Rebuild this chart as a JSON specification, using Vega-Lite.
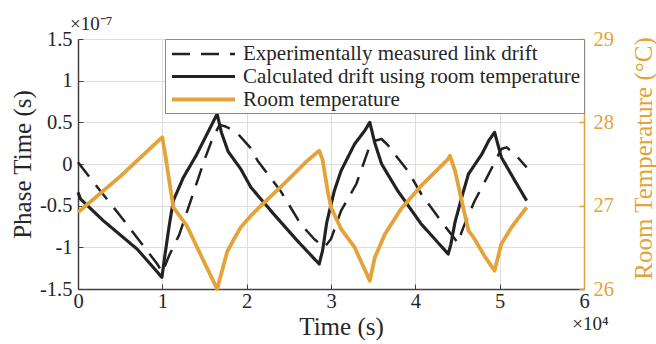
{
  "$schema": "https://vega.github.io/schema/vega-lite/v6.json",
  "width": 506,
  "height": 250,
  "autosize": {"type": "none"},
  "padding": {"left": 78, "top": 39, "right": 72, "bottom": 55},
  "background": "white",
  "config": {"view": {"stroke": null}, "font": "Liberation Serif"},
  "title": {"text": "×10⁻⁷", "anchor": "start", "frame": "group", "font": "Liberation Serif", "fontSize": 19, "fontWeight": "normal", "color": "#262626", "baseline": "alphabetic", "offset": 2, "dx": -8, "dy": 22},
  "datasets": {
    "drift": [
      {"series": "Experimentally measured link drift", "time": 0, "phase": 0.02e-7},
      {"series": "Experimentally measured link drift", "time": 2000, "phase": -0.24e-7},
      {"series": "Experimentally measured link drift", "time": 5000, "phase": -0.62e-7},
      {"series": "Experimentally measured link drift", "time": 9400, "phase": -1.2e-7},
      {"series": "Experimentally measured link drift", "time": 10000, "phase": -1.3e-7},
      {"series": "Experimentally measured link drift", "time": 10800, "phase": -1.1e-7},
      {"series": "Experimentally measured link drift", "time": 12000, "phase": -0.85e-7},
      {"series": "Experimentally measured link drift", "time": 13500, "phase": -0.4e-7},
      {"series": "Experimentally measured link drift", "time": 15000, "phase": 0.05e-7},
      {"series": "Experimentally measured link drift", "time": 16000, "phase": 0.32e-7},
      {"series": "Experimentally measured link drift", "time": 16800, "phase": 0.47e-7},
      {"series": "Experimentally measured link drift", "time": 17500, "phase": 0.45e-7},
      {"series": "Experimentally measured link drift", "time": 18800, "phase": 0.38e-7},
      {"series": "Experimentally measured link drift", "time": 20400, "phase": 0.2e-7},
      {"series": "Experimentally measured link drift", "time": 21300, "phase": 0.04e-7},
      {"series": "Experimentally measured link drift", "time": 24000, "phase": -0.32e-7},
      {"series": "Experimentally measured link drift", "time": 26400, "phase": -0.72e-7},
      {"series": "Experimentally measured link drift", "time": 28000, "phase": -0.9e-7},
      {"series": "Experimentally measured link drift", "time": 29200, "phase": -1.0e-7},
      {"series": "Experimentally measured link drift", "time": 30000, "phase": -0.9e-7},
      {"series": "Experimentally measured link drift", "time": 31200, "phase": -0.56e-7},
      {"series": "Experimentally measured link drift", "time": 33000, "phase": -0.24e-7},
      {"series": "Experimentally measured link drift", "time": 34400, "phase": 0.16e-7},
      {"series": "Experimentally measured link drift", "time": 35200, "phase": 0.28e-7},
      {"series": "Experimentally measured link drift", "time": 36000, "phase": 0.3e-7},
      {"series": "Experimentally measured link drift", "time": 36800, "phase": 0.22e-7},
      {"series": "Experimentally measured link drift", "time": 37700, "phase": 0.1e-7},
      {"series": "Experimentally measured link drift", "time": 39100, "phase": -0.08e-7},
      {"series": "Experimentally measured link drift", "time": 40700, "phase": -0.36e-7},
      {"series": "Experimentally measured link drift", "time": 43300, "phase": -0.72e-7},
      {"series": "Experimentally measured link drift", "time": 44700, "phase": -0.9e-7},
      {"series": "Experimentally measured link drift", "time": 45000, "phase": -0.95e-7},
      {"series": "Experimentally measured link drift", "time": 45700, "phase": -0.76e-7},
      {"series": "Experimentally measured link drift", "time": 47000, "phase": -0.45e-7},
      {"series": "Experimentally measured link drift", "time": 48500, "phase": -0.16e-7},
      {"series": "Experimentally measured link drift", "time": 50200, "phase": 0.18e-7},
      {"series": "Experimentally measured link drift", "time": 50800, "phase": 0.2e-7},
      {"series": "Experimentally measured link drift", "time": 51700, "phase": 0.13e-7},
      {"series": "Experimentally measured link drift", "time": 53200, "phase": -0.04e-7},
      {"series": "Calculated drift using room temperature", "time": 0, "phase": -0.34e-7},
      {"series": "Calculated drift using room temperature", "time": 300, "phase": -0.42e-7},
      {"series": "Calculated drift using room temperature", "time": 3000, "phase": -0.68e-7},
      {"series": "Calculated drift using room temperature", "time": 7000, "phase": -1.02e-7},
      {"series": "Calculated drift using room temperature", "time": 9950, "phase": -1.36e-7},
      {"series": "Calculated drift using room temperature", "time": 10300, "phase": -1.1e-7},
      {"series": "Calculated drift using room temperature", "time": 10800, "phase": -0.75e-7},
      {"series": "Calculated drift using room temperature", "time": 11300, "phase": -0.44e-7},
      {"series": "Calculated drift using room temperature", "time": 12500, "phase": -0.16e-7},
      {"series": "Calculated drift using room temperature", "time": 14000, "phase": 0.1e-7},
      {"series": "Calculated drift using room temperature", "time": 15500, "phase": 0.4e-7},
      {"series": "Calculated drift using room temperature", "time": 16500, "phase": 0.6e-7},
      {"series": "Calculated drift using room temperature", "time": 17000, "phase": 0.38e-7},
      {"series": "Calculated drift using room temperature", "time": 17800, "phase": 0.15e-7},
      {"series": "Calculated drift using room temperature", "time": 19300, "phase": -0.06e-7},
      {"series": "Calculated drift using room temperature", "time": 20500, "phase": -0.28e-7},
      {"series": "Calculated drift using room temperature", "time": 23200, "phase": -0.6e-7},
      {"series": "Calculated drift using room temperature", "time": 26000, "phase": -0.92e-7},
      {"series": "Calculated drift using room temperature", "time": 28600, "phase": -1.2e-7},
      {"series": "Calculated drift using room temperature", "time": 29000, "phase": -1.04e-7},
      {"series": "Calculated drift using room temperature", "time": 29500, "phase": -0.7e-7},
      {"series": "Calculated drift using room temperature", "time": 30400, "phase": -0.32e-7},
      {"series": "Calculated drift using room temperature", "time": 31200, "phase": -0.08e-7},
      {"series": "Calculated drift using room temperature", "time": 32800, "phase": 0.24e-7},
      {"series": "Calculated drift using room temperature", "time": 34000, "phase": 0.4e-7},
      {"series": "Calculated drift using room temperature", "time": 34600, "phase": 0.5e-7},
      {"series": "Calculated drift using room temperature", "time": 35200, "phase": 0.25e-7},
      {"series": "Calculated drift using room temperature", "time": 36000, "phase": 0.0},
      {"series": "Calculated drift using room temperature", "time": 37900, "phase": -0.32e-7},
      {"series": "Calculated drift using room temperature", "time": 40700, "phase": -0.72e-7},
      {"series": "Calculated drift using room temperature", "time": 43900, "phase": -1.08e-7},
      {"series": "Calculated drift using room temperature", "time": 44200, "phase": -0.97e-7},
      {"series": "Calculated drift using room temperature", "time": 44700, "phase": -0.7e-7},
      {"series": "Calculated drift using room temperature", "time": 45500, "phase": -0.4e-7},
      {"series": "Calculated drift using room temperature", "time": 46300, "phase": -0.12e-7},
      {"series": "Calculated drift using room temperature", "time": 47100, "phase": 0.0},
      {"series": "Calculated drift using room temperature", "time": 47900, "phase": 0.12e-7},
      {"series": "Calculated drift using room temperature", "time": 48700, "phase": 0.28e-7},
      {"series": "Calculated drift using room temperature", "time": 49400, "phase": 0.38e-7},
      {"series": "Calculated drift using room temperature", "time": 50200, "phase": 0.08e-7},
      {"series": "Calculated drift using room temperature", "time": 51800, "phase": -0.2e-7},
      {"series": "Calculated drift using room temperature", "time": 53200, "phase": -0.44e-7}
    ],
    "temp": [
      {"series": "Room temperature", "time": 0, "temp": 26.92},
      {"series": "Room temperature", "time": 5000, "temp": 27.35},
      {"series": "Room temperature", "time": 9760, "temp": 27.8},
      {"series": "Room temperature", "time": 10000, "temp": 27.82},
      {"series": "Room temperature", "time": 10400, "temp": 27.58},
      {"series": "Room temperature", "time": 11000, "temp": 27.18},
      {"series": "Room temperature", "time": 11300, "temp": 26.98},
      {"series": "Room temperature", "time": 12900, "temp": 26.76},
      {"series": "Room temperature", "time": 14500, "temp": 26.42},
      {"series": "Room temperature", "time": 16500, "temp": 26.0},
      {"series": "Room temperature", "time": 17300, "temp": 26.3},
      {"series": "Room temperature", "time": 17700, "temp": 26.45},
      {"series": "Room temperature", "time": 18500, "temp": 26.6},
      {"series": "Room temperature", "time": 19300, "temp": 26.74},
      {"series": "Room temperature", "time": 20500, "temp": 26.88},
      {"series": "Room temperature", "time": 21700, "temp": 27.0},
      {"series": "Room temperature", "time": 24400, "temp": 27.26},
      {"series": "Room temperature", "time": 27200, "temp": 27.54},
      {"series": "Room temperature", "time": 28600, "temp": 27.66},
      {"series": "Room temperature", "time": 29000, "temp": 27.55},
      {"series": "Room temperature", "time": 29600, "temp": 27.18},
      {"series": "Room temperature", "time": 30000, "temp": 26.98},
      {"series": "Room temperature", "time": 31200, "temp": 26.72},
      {"series": "Room temperature", "time": 32800, "temp": 26.5},
      {"series": "Room temperature", "time": 34600, "temp": 26.1},
      {"series": "Room temperature", "time": 35200, "temp": 26.38},
      {"series": "Room temperature", "time": 36400, "temp": 26.66},
      {"series": "Room temperature", "time": 38300, "temp": 26.96},
      {"series": "Room temperature", "time": 40700, "temp": 27.24},
      {"series": "Room temperature", "time": 43900, "temp": 27.56},
      {"series": "Room temperature", "time": 44100, "temp": 27.6},
      {"series": "Room temperature", "time": 44700, "temp": 27.42},
      {"series": "Room temperature", "time": 45500, "temp": 27.06},
      {"series": "Room temperature", "time": 46300, "temp": 26.7},
      {"series": "Room temperature", "time": 46900, "temp": 26.62},
      {"series": "Room temperature", "time": 48300, "temp": 26.38},
      {"series": "Room temperature", "time": 49400, "temp": 26.22},
      {"series": "Room temperature", "time": 50200, "temp": 26.54},
      {"series": "Room temperature", "time": 51400, "temp": 26.74},
      {"series": "Room temperature", "time": 53200, "temp": 26.98}
    ]
  },
  "layer": [
    {
      "data": {"name": "drift"},
      "mark": {"type": "line", "strokeJoin": "round", "strokeCap": "butt"},
      "encoding": {
        "x": {
          "field": "time", "type": "quantitative",
          "scale": {"domain": [0, 60000], "nice": false, "zero": false},
          "axis": {
            "orient": "bottom",
            "values": [0, 10000, 20000, 30000, 40000, 50000, 60000],
            "labelExpr": "toString(datum.value/10000)",
            "labelFont": "Liberation Serif", "labelFontSize": 20.5, "labelColor": "#262626",
            "labelPadding": 7, "labelFlush": false, "labelOverlap": false,
            "tickSize": -5, "tickColor": "#404040", "tickWidth": 1,
            "domainColor": "#404040", "domainWidth": 1.5,
            "grid": true, "gridColor": "#dddddd", "gridWidth": 1,
            "title": "Time (s)", "titleFont": "Liberation Serif", "titleFontSize": 25, "titleFontWeight": "normal", "titleColor": "#262626",
            "titleX": 263, "titleY": 45, "titleAlign": "center", "titleBaseline": "alphabetic"
          }
        },
        "y": {
          "field": "phase", "type": "quantitative",
          "scale": {"domain": [-1.5e-7, 1.5e-7], "nice": false, "zero": false},
          "axis": {
            "orient": "left",
            "values": [-1.5e-7, -1e-7, -0.5e-7, 0, 0.5e-7, 1e-7, 1.5e-7],
            "labelExpr": "toString(round(datum.value*1e8)/10)",
            "labelFont": "Liberation Serif", "labelFontSize": 20.5, "labelColor": "#262626",
            "labelPadding": 11, "labelOverlap": false, "labelFlush": false,
            "tickSize": -5, "tickColor": "#404040", "tickWidth": 1,
            "domainColor": "#404040", "domainWidth": 1.5,
            "grid": true, "gridColor": "#dddddd", "gridWidth": 1,
            "title": "Phase Time (s)", "titleFont": "Liberation Serif", "titleFontSize": 25, "titleFontWeight": "normal", "titleColor": "#262626",
            "titleAngle": 270, "titleX": -56, "titleY": 125, "titleAlign": "center", "titleBaseline": "middle"
          }
        },
        "color": {
          "field": "series", "type": "nominal",
          "scale": {"domain": ["Experimentally measured link drift", "Calculated drift using room temperature", "Room temperature"], "range": ["#222222", "#222222", "#E3A33A"]},
          "legend": {
            "title": null, "orient": "top-right", "offset": 0, "padding": 3,
            "fillColor": "white", "strokeColor": "#8c8c8c",
            "labelFont": "Liberation Serif", "labelFontSize": 21, "labelColor": "#262626", "labelLimit": 0,
            "symbolType": "M-3,0H3", "symbolSize": 441, "symbolOffset": 23, "labelOffset": 27, "rowPadding": 0
          }
        },
        "strokeDash": {
          "field": "series", "type": "nominal",
          "scale": {"domain": ["Experimentally measured link drift", "Calculated drift using room temperature", "Room temperature"], "range": [[18, 11], [1, 0], [1, 0]]},
          "legend": {
            "title": null, "orient": "top-right", "offset": 0, "padding": 3,
            "fillColor": "white", "strokeColor": "#8c8c8c",
            "labelFont": "Liberation Serif", "labelFontSize": 21, "labelColor": "#262626", "labelLimit": 0,
            "symbolType": "M-3,0H3", "symbolSize": 441, "symbolOffset": 23, "labelOffset": 27, "rowPadding": 0
          }
        },
        "strokeWidth": {
          "field": "series", "type": "nominal",
          "scale": {"domain": ["Experimentally measured link drift", "Calculated drift using room temperature", "Room temperature"], "range": [2.5, 3.8, 3]},
          "legend": {
            "title": null, "orient": "top-right", "offset": 0, "padding": 3,
            "fillColor": "white", "strokeColor": "#8c8c8c",
            "labelFont": "Liberation Serif", "labelFontSize": 21, "labelColor": "#262626", "labelLimit": 0,
            "symbolType": "M-3,0H3", "symbolSize": 441, "symbolOffset": 23, "labelOffset": 27, "rowPadding": 0
          }
        }
      }
    },
    {
      "data": {"name": "temp"},
      "mark": {"type": "line", "strokeJoin": "round"},
      "encoding": {
        "x": {
          "field": "time", "type": "quantitative",
          "axis": {
            "orient": "top", "domain": false, "ticks": false, "labels": false, "grid": false,
            "title": "×10⁴", "titleFont": "Liberation Serif", "titleFontSize": 19, "titleFontWeight": "normal", "titleColor": "#262626",
            "titleX": 512, "titleY": 290, "titleAlign": "center", "titleBaseline": "alphabetic", "titleAngle": 0
          }
        },
        "y": {
          "field": "temp", "type": "quantitative",
          "scale": {"domain": [26, 29], "nice": false, "zero": false},
          "axis": {
            "orient": "right",
            "values": [26, 27, 28, 29],
            "labelFont": "Liberation Serif", "labelFontSize": 20.5, "labelColor": "#E3A33A",
            "labelPadding": 14, "labelOverlap": false, "labelFlush": false,
            "tickSize": -5, "tickColor": "#E3A33A", "tickWidth": 1.5,
            "domainColor": "#E3A33A", "domainWidth": 1.5,
            "grid": false,
            "title": "Room Temperature (°C)", "titleFont": "Liberation Serif", "titleFontSize": 25, "titleFontWeight": "normal", "titleColor": "#E3A33A",
            "titleAngle": 270, "titleX": 59, "titleY": 119, "titleAlign": "center", "titleBaseline": "middle"
          }
        },
        "color": {"field": "series", "type": "nominal"},
        "strokeDash": {"field": "series", "type": "nominal"},
        "strokeWidth": {"field": "series", "type": "nominal"}
      }
    }
  ],
  "resolve": {"scale": {"y": "independent"}, "axis": {"x": "independent"}}
}
